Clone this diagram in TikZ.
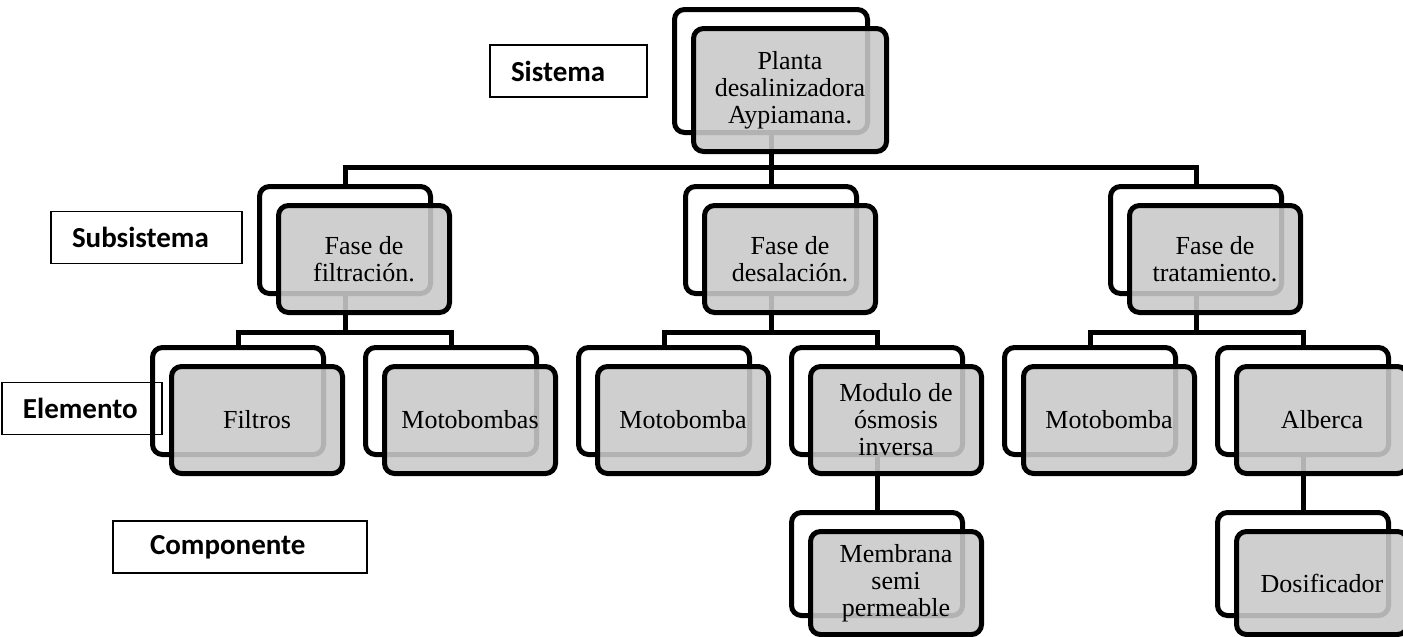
\documentclass[tikz,border=0pt]{standalone}
\usepackage{fontspec}
\setmainfont{Liberation Serif}
\newfontfamily\tagfont{Carlito}
\usepackage{tikz}

\begin{document}
\begin{tikzpicture}[
    x=0.5pt, y=-0.5pt,
    back/.style = {draw, line width=2.5pt, rounded corners=5pt, minimum width=85.5pt, minimum height=53.5pt},
    front/.style = {back, fill=black!21, fill opacity=0.89, text opacity=1, align=center,
                    font=\fontsize{13}{13.5}\selectfont},
    tag/.style = {draw, line width=0.75pt, inner xsep=10.5pt, minimum height=26pt, align=left,
                  font=\tagfont\bfseries\fontsize{14.5}{16}\selectfont},
    conn/.style = {line width=2.5pt}
  ]
  \useasboundingbox (0,0) rectangle (1403,637);

  % Level labels on the left
  \node[tag, text width=57.5pt] (sistema) at (568.5,71) {Sistema};
  \node[tag, text width=74.5pt] (subsistema) at (146.5,237.5) {Subsistema};
  \node[tag, text width=59pt] (elemento) at (82,408.5) {Elemento};
  \node[tag, inner xsep=18.5pt, text width=90pt] (componente) at (240,547) {Componente};

  % Back boxes
  \node[back, minimum width=96.5pt, minimum height=61.5pt] (planta-b) at (771,71) {};
  \node[back] (filt-b) at (345,240) {};
  \node[back] (desal-b) at (771,240) {};
  \node[back] (trat-b) at (1196,240) {};
  \node[back] (filtros-b) at (238,401) {};
  \node[back] (motos-b) at (451,401) {};
  \node[back] (motoA-b) at (664,401) {};
  \node[back] (modulo-b) at (877,401) {};
  \node[back] (motoB-b) at (1090,401) {};
  \node[back] (alberca-b) at (1303,401) {};
  \node[back, minimum height=51.5pt] (membrana-b) at (877,564) {};
  \node[back, minimum height=51.5pt] (dosif-b) at (1303,564) {};

  % Buses
  \coordinate (bus1) at (0,167);
  \coordinate (bus2) at (0,332);

  % Sistema to subsistemas
  \draw[conn] (filt-b.north) |- (planta-b.south |- bus1) -| (trat-b.north);
  \draw[conn] (planta-b.south) -- (desal-b.north);

  % Subsistemas to elementos
  \draw[conn] (filtros-b.north) |- (filt-b.south |- bus2) -| (motos-b.north);
  \draw[conn] (filt-b.south) -- (filt-b.south |- bus2);
  \draw[conn] (motoA-b.north) |- (desal-b.south |- bus2) -| (modulo-b.north);
  \draw[conn] (desal-b.south) -- (desal-b.south |- bus2);
  \draw[conn] (motoB-b.north) |- (trat-b.south |- bus2) -| (alberca-b.north);
  \draw[conn] (trat-b.south) -- (trat-b.south |- bus2);

  % Elementos to componentes
  \draw[conn] (modulo-b.south) -- (membrana-b.north);
  \draw[conn] (alberca-b.south) -- (dosif-b.north);

  % Front boxes with the texts
  \node[front, minimum width=96.5pt, minimum height=61.5pt] (planta) at (790,90)
    {Planta\\desalinizadora\\Aypiamana.};
  \node[front] (filt) at (364,259) {Fase de\\filtración.};
  \node[front] (desal) at (790,259) {Fase de\\desalación.};
  \node[front] (trat) at (1215,259) {Fase de\\tratamiento.};
  \node[front] (filtros) at (257,420) {Filtros};
  \node[front] (motos) at (470,420) {Motobombas};
  \node[front] (motoA) at (683,420) {Motobomba};
  \node[front] (modulo) at (896,420) {Modulo de\\ósmosis\\inversa};
  \node[front] (motoB) at (1109,420) {Motobomba};
  \node[front] (alberca) at (1322,420) {Alberca};
  \node[front, minimum height=51.5pt] (membrana) at (896,583) {Membrana\\semi\\permeable};
  \node[front, minimum height=51.5pt] (dosif) at (1322,583) {Dosificador};

\end{tikzpicture}
\end{document}
